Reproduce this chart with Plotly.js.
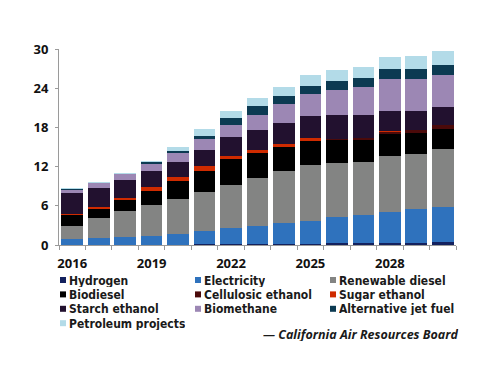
<!DOCTYPE html>
<html>
<head>
<meta charset="utf-8">
<script src="https://cdn.plot.ly/plotly-3.0.1.min.js"></script>
<style>html,body{margin:0;padding:0;background:#fff;}#chart{width:500px;height:386px;}</style>
</head>
<body>
<div id="chart"></div>
<script>
// ---- data ----
const years = [2016, 2017, 2018, 2019, 2020, 2021, 2022, 2023, 2024, 2025, 2026, 2027, 2028, 2029, 2030];
const xTickLabels = [2016, 2019, 2022, 2025, 2028];
const yTickValues = [0, 6, 12, 18, 24, 30];

const seriesNames = ["Hydrogen", "Electricity", "Renewable diesel", "Biodiesel", "Cellulosic ethanol",
  "Sugar ethanol", "Starch ethanol", "Biomethane", "Alternative jet fuel", "Petroleum projects"];

const hydrogen   = [0.02, 0.03, 0.04, 0.05, 0.06, 0.08, 0.10, 0.12, 0.18, 0.20, 0.26, 0.30, 0.33, 0.38, 0.46];
const electricity= [0.85, 0.99, 1.18, 1.38, 1.64, 2.06, 2.48, 2.82, 3.14, 3.52, 3.95, 4.34, 4.72, 5.08, 5.36];
const renewableDiesel = [2.03, 3.06, 3.98, 4.64, 5.39, 5.97, 6.67, 7.26, 7.94, 8.48, 8.27, 8.09, 8.63, 8.41, 8.86];
const biodiesel  = [1.64, 1.48, 1.64, 2.20, 2.76, 3.27, 3.85, 3.82, 3.70, 3.70, 3.52, 3.40, 3.29, 3.23, 3.14];
const cellulosic = [0, 0, 0, 0, 0, 0, 0, 0, 0, 0.06, 0.22, 0.30, 0.40, 0.48, 0.50];
const sugar      = [0.20, 0.31, 0.40, 0.61, 0.61, 0.66, 0.57, 0.53, 0.54, 0.38, 0.02, 0.02, 0.02, 0.02, 0.02];
const starch     = [3.16, 2.91, 2.66, 2.40, 2.24, 2.55, 2.81, 3.01, 3.13, 3.34, 3.65, 3.47, 3.19, 2.95, 2.80];
const biomethane = [0.50, 0.66, 0.90, 1.17, 1.33, 1.58, 1.84, 2.30, 2.89, 3.37, 3.80, 4.28, 4.82, 4.85, 4.95];
const altJetFuel = [0.10, 0.06, 0.05, 0.20, 0.31, 0.56, 1.06, 1.36, 1.30, 1.36, 1.35, 1.33, 1.47, 1.47, 1.53];
const petroleum  = [0.22, 0.15, 0.15, 0.21, 0.61, 0.97, 1.10, 1.22, 1.38, 1.55, 1.71, 1.77, 1.89, 1.99, 2.13];

const seriesValues = [hydrogen, electricity, renewableDiesel, biodiesel, cellulosic, sugar, starch, biomethane, altJetFuel, petroleum];
const seriesColors = ["#13215e", "#2f72bd", "#838483", "#000000", "#4b0a0a", "#cf2b00", "#22112f", "#9c87b4", "#0c3a52", "#b3dbe8"];

const sourceText = "— California Air Resources Board";

// ---- chart ----
const traces = seriesNames.map((name, i) => ({
  type: "bar",
  name: name,
  x: years,
  y: seriesValues[i],
  marker: { color: seriesColors[i], line: { width: 0 } },
  showlegend: false,
  hoverinfo: "skip"
}));

const W = 500, H = 386;
const M = { l: 59, r: 44, t: 49, b: 141 };
const pw = W - M.l - M.r, ph = H - M.t - M.b;
const px = v => (v - M.l) / pw;
const py = v => (H - M.b - v) / ph;

const tickFont = { family: "Open Sans, DejaVu Sans, sans-serif", size: 13, weight: "bold", color: "#111" };
const legFont = { family: "DejaVu Sans Condensed, DejaVu Sans, sans-serif", size: 12, weight: "bold", color: "#1a1a1a" };

// manual 3-column legend
const colX = [60, 195, 330];
const rowY = [280, 294.4, 308.8, 323.2];
const shapes = [];
const annotations = [];
seriesNames.forEach((name, i) => {
  const c = i % 3, r = Math.floor(i / 3);
  const sx = colX[c], sy = rowY[r];
  shapes.push({
    type: "rect", xref: "paper", yref: "paper",
    x0: px(sx), x1: px(sx + 6), y0: py(sy + 3), y1: py(sy - 3),
    fillcolor: seriesColors[i], line: { width: 0 }
  });
  annotations.push({
    xref: "paper", yref: "paper", x: px(sx + 8), y: py(sy),
    xanchor: "left", yanchor: "middle", showarrow: false,
    height: 13, borderpad: 0, valign: "middle",
    text: name, font: legFont
  });
});
annotations.push({
  xref: "paper", yref: "paper", x: px(460), y: py(333.5),
  xanchor: "right", yanchor: "middle", showarrow: false,
  height: 14, borderpad: 0,
  text: sourceText,
  font: { family: "Open Sans, DejaVu Sans, sans-serif", size: 12.5, weight: "bold", style: "italic", color: "#1a1a1a" }
});

const layout = {
  width: W, height: H,
  margin: M,
  paper_bgcolor: "#fff", plot_bgcolor: "#fff",
  barmode: "stack",
  bargap: 0.18,
  showlegend: false,
  xaxis: {
    type: "linear",
    range: [2015.5, 2030.5],
    tickvals: xTickLabels,
    ticktext: xTickLabels.map(String),
    ticks: "",
    showgrid: false, zeroline: false,
    showline: true, linecolor: "#9a9a9a", linewidth: 1,
    tickfont: tickFont,
    ticklabelstandoff: 6,
    minor: { tick0: 2015.5, dtick: 1, ticks: "outside", ticklen: 4, tickcolor: "#9a9a9a", tickwidth: 1, showgrid: false }
  },
  yaxis: {
    range: [0, 30],
    tickvals: yTickValues,
    ticks: "outside", ticklen: 3, tickcolor: "#9a9a9a", tickwidth: 1,
    showgrid: false, zeroline: false,
    showline: true, linecolor: "#9a9a9a", linewidth: 1,
    tickfont: tickFont,
    ticklabelstandoff: 4
  },
  shapes: shapes,
  annotations: annotations
};

Plotly.newPlot("chart", traces, layout, { displayModeBar: false, staticPlot: true });
</script>
</body>
</html>
